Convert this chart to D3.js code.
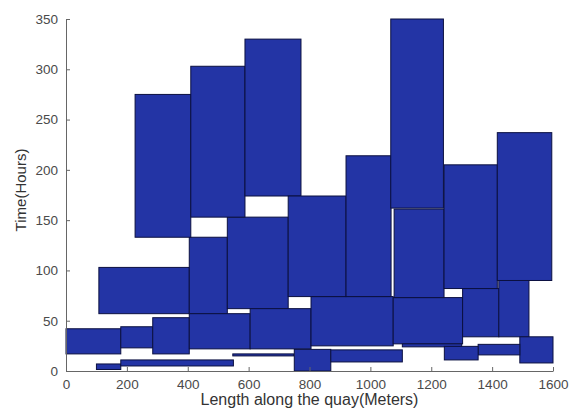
<!DOCTYPE html>
<html>
<head>
<meta charset="utf-8">
<script src="https://cdn.jsdelivr.net/npm/d3@7"></script>
<style>
  body { margin: 0; background: #fff; }
  text { font-family: "Liberation Sans", Arial, sans-serif; }
</style>
</head>
<body>
<div id="chart"></div>
<script>
// berth plan: each block is one vessel (quay position x time window)
var quayStart = [0, 180, 285, 108, 405, 405, 530, 605, 100, 180, 548, 750, 870, 805, 1075,
                 1105, 1303, 1422, 1491, 1354, 1243, 227, 410, 588, 730, 920, 1067, 1078, 1242, 1417];
var quayEnd   = [180, 285, 405, 405, 530, 605, 730, 805, 180, 550, 748, 870, 1105, 1075, 1303,
                 1300, 1422, 1521, 1600, 1491, 1354, 410, 588, 772, 920, 1068, 1240, 1242, 1417, 1596];
var timeStart = [17, 23, 17, 57, 57, 22, 62, 22, 1.5, 5, 15, 0, 9, 25, 27,
                 24, 34, 34, 8, 16, 11, 133, 153, 174, 74, 74, 162, 73, 82, 90];
var timeEnd   = [42, 44, 53, 103, 133, 57, 153, 62, 7, 11, 17, 21.5, 21, 74, 73,
                 27, 82, 90, 34, 26.5, 24.5, 275, 303, 330, 174, 214, 350, 161, 205, 237];

var xTicks = [0, 200, 400, 600, 800, 1000, 1200, 1400, 1600];
var yTicks = [0, 50, 100, 150, 200, 250, 300, 350];

var margin = {top: 19, right: 17, bottom: 43, left: 66},
    width = 570 - margin.left - margin.right,
    height = 414 - margin.top - margin.bottom;

var svg = d3.select("#chart")
  .append("svg")
    .attr("width", 570)
    .attr("height", 414)
  .append("g")
    .attr("transform", "translate(" + margin.left + "," + margin.top + ")");

var x = d3.scaleLinear().domain([0, 1600]).range([0, width]);
var y = d3.scaleLinear().domain([0, 350]).range([height, 0]);

// blocks
var blocks = d3.range(quayStart.length).map(i => {
  return {x0: quayStart[i], x1: quayEnd[i], t0: timeStart[i], t1: timeEnd[i]};
});

svg.selectAll("rect.vessel")
  .data(blocks)
  .enter().append("rect")
    .attr("class", "vessel")
    .attr("x", d => x(d.x0))
    .attr("y", d => y(d.t1))
    .attr("width", d => x(d.x1) - x(d.x0))
    .attr("height", d => y(d.t0) - y(d.t1))
    .attr("fill", "#2334a5")
    .attr("stroke", "#0b1040")
    .attr("stroke-width", 1);

// axes (MATLAB style, ticks pointing in)
var xAxis = svg.append("g")
  .attr("transform", "translate(0," + height + ")")
  .call(d3.axisBottom(x).tickValues(xTicks).tickFormat(d3.format("d"))
    .tickSizeInner(-4).tickSizeOuter(0).tickPadding(8));

var yAxis = svg.append("g")
  .call(d3.axisLeft(y).tickValues(yTicks).tickFormat(d3.format("d"))
    .tickSizeInner(-4).tickSizeOuter(0).tickPadding(8));

[xAxis, yAxis].forEach(g => {
  g.select(".domain").attr("stroke", "#666");
  g.selectAll(".tick line").attr("stroke", "#666");
  g.selectAll(".tick text")
    .attr("fill", "#4a4a4a")
    .style("font-size", "13.5px")
    .style("font-family", "'Liberation Sans', Arial, sans-serif");
});

// axis labels
svg.append("text")
  .attr("x", width / 2)
  .attr("y", height + 34)
  .attr("text-anchor", "middle")
  .attr("fill", "#333")
  .style("font-size", "16px")
  .text("Length along the quay(Meters)");

svg.append("text")
  .attr("transform", "rotate(-90)")
  .attr("x", -height / 2 + 5)
  .attr("y", -40)
  .attr("text-anchor", "middle")
  .attr("fill", "#333")
  .style("font-size", "15px")
  .text("Time(Hours)");
</script>
</body>
</html>
